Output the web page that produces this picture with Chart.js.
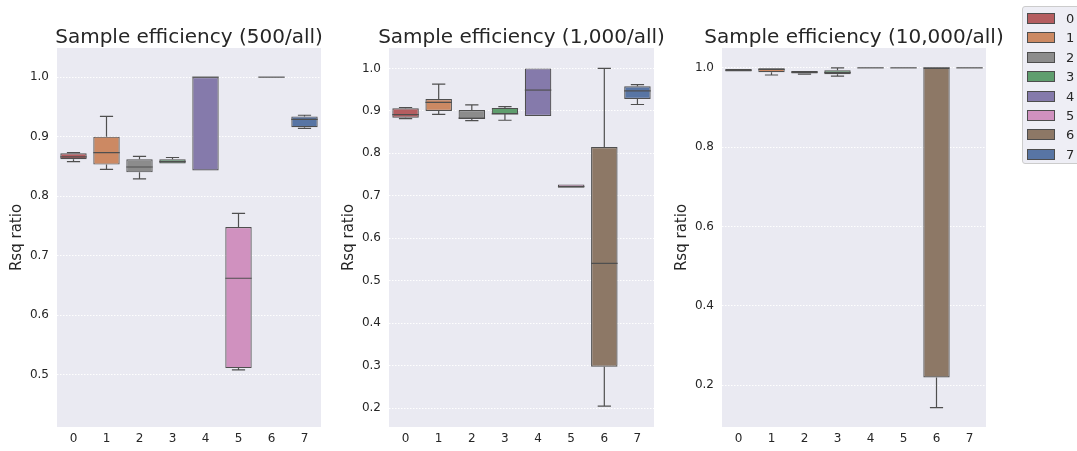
<!DOCTYPE html>
<html>
<head>
<meta charset="utf-8">
<script src="https://cdn.jsdelivr.net/npm/chart.js@4.4.0/dist/chart.umd.min.js"></script>
<style>
    body { margin: 0; background: #fff; font-family: 'DejaVu Sans', sans-serif; }
    #wrap { position: relative; width: 1077px; height: 451px; overflow: hidden; }
    #wrap canvas { position: absolute; left: 0; top: 0; }
    #legend {
        position: absolute; left: 1022px; top: 6px; width: 70px; height: 158px;
        background: #eeeef5; border: 1px solid #cccccc; border-radius: 3px;
        box-sizing: border-box;
    }
    .leg-row { position: absolute; left: 4px; height: 19px; display: flex; align-items: center; }
    .leg-patch { width: 26px; height: 9px; border: 1px solid #4d4d4d; }
    .leg-label { margin-left: 11px; font-size: 13px; color: #262626; }
</style>
</head>
<body>
<div id="wrap">
    <canvas id="c500" width="1077" height="451"></canvas>
    <canvas id="c1000" width="1077" height="451"></canvas>
    <canvas id="c10000" width="1077" height="451"></canvas>
    <div id="legend"></div>
</div>
<script>
// categories and colours
const categories = ['0', '1', '2', '3', '4', '5', '6', '7'];
const boxColors = ['#b55d60', '#cc8963', '#8c8c8c', '#5f9e6e', '#857aab', '#d091bf', '#8d7866', '#5875a4'];

// 500/all
const p500Min = [0.858, 0.845, 0.829, 0.855, 0.843, 0.508, 1.0, 0.914];
const p500Q1  = [0.862, 0.853, 0.840, 0.855, 0.843, 0.511, 1.0, 0.916];
const p500Med = [0.866, 0.873, 0.849, 0.858, 1.0, 0.662, 1.0, 0.929];
const p500Q3  = [0.872, 0.900, 0.862, 0.862, 1.0, 0.748, 1.0, 0.934];
const p500Max = [0.873, 0.934, 0.867, 0.865, 1.0, 0.771, 1.0, 0.936];
const p500Ticks = [0.5, 0.6, 0.7, 0.8, 0.9, 1.0];

// 1,000/all
const p1000Min = [0.882, 0.892, 0.877, 0.878, 0.888, 0.719, 0.205, 0.915];
const p1000Q1  = [0.884, 0.900, 0.881, 0.892, 0.888, 0.719, 0.298, 0.928];
const p1000Med = [0.891, 0.920, 0.883, 0.893, 0.949, 0.722, 0.541, 0.947];
const p1000Q3  = [0.906, 0.928, 0.902, 0.907, 1.0, 0.727, 0.815, 0.958];
const p1000Max = [0.908, 0.963, 0.914, 0.910, 1.0, 0.727, 1.0, 0.962];
const p1000Ticks = [0.2, 0.3, 0.4, 0.5, 0.6, 0.7, 0.8, 0.9, 1.0];

// 10,000/all
const p10000Min = [0.990, 0.982, 0.984, 0.979, 1.0, 1.0, 0.144, 1.0];
const p10000Q1  = [0.991, 0.989, 0.986, 0.984, 1.0, 1.0, 0.220, 1.0];
const p10000Med = [0.994, 0.996, 0.989, 0.988, 1.0, 1.0, 1.0, 1.0];
const p10000Q3  = [0.997, 0.999, 0.992, 0.994, 1.0, 1.0, 1.0, 1.0];
const p10000Max = [0.998, 1.0, 0.993, 1.0, 1.0, 1.0, 1.0, 1.0];
const p10000Ticks = [0.2, 0.4, 0.6, 0.8, 1.0];

const LINE = '#4f4f4f';
const TEXT = '#262626';

// 须 / 中位线
const whiskerPlugin = {
    id: 'whiskers',
    afterDatasetsDraw(chart, args, opts) {
        const ctx = chart.ctx;
        const y = chart.scales.y;
        const meta = chart.getDatasetMeta(0);
        ctx.save();
        ctx.strokeStyle = LINE;
        ctx.lineWidth = 1.2;
        meta.data.forEach((bar, i) => {
            const x = bar.x;
            const half = bar.width / 2;
            const cap = bar.width / 4;
            const yMin = y.getPixelForValue(opts.min[i]);
            const yQ1 = y.getPixelForValue(opts.q1[i]);
            const yQ3 = y.getPixelForValue(opts.q3[i]);
            const yMax = y.getPixelForValue(opts.max[i]);
            const yMed = y.getPixelForValue(opts.med[i]);
            ctx.beginPath();
            if (yMax < yQ3 - 0.5) {
                ctx.moveTo(x, yQ3); ctx.lineTo(x, yMax);
                ctx.moveTo(x - cap, yMax); ctx.lineTo(x + cap, yMax);
            }
            if (yMin > yQ1 + 0.5) {
                ctx.moveTo(x, yQ1); ctx.lineTo(x, yMin);
                ctx.moveTo(x - cap, yMin); ctx.lineTo(x + cap, yMin);
            }
            ctx.moveTo(x - half, yMed); ctx.lineTo(x + half, yMed);
            ctx.stroke();
        });
        ctx.restore();
    }
};

// 背景 + 标题（居中于绘图区）
const bgPlugin = {
    id: 'plotBg',
    beforeDraw(chart, args, opts) {
        const a = chart.chartArea;
        const ctx = chart.ctx;
        ctx.save();
        ctx.fillStyle = '#eaeaf2';
        ctx.fillRect(a.left, a.top, a.right - a.left, a.bottom - a.top);
        ctx.fillStyle = TEXT;
        ctx.font = '20px "DejaVu Sans"';
        ctx.textAlign = 'center';
        ctx.textBaseline = 'alphabetic';
        ctx.fillText(opts.title, (a.left + a.right) / 2, 43);
        ctx.restore();
    }
};

function makePanel(id, title, stats, ticks, yMin, yMax, left, right) {
    new Chart(document.getElementById(id), {
        type: 'bar',
        data: {
            labels: categories,
            datasets: [{
                data: stats.q1.map((q, i) => [q, stats.q3[i]]),
                backgroundColor: boxColors,
                borderColor: LINE,
                borderWidth: 1.2,
                borderSkipped: false,
                barPercentage: 0.8,
                categoryPercentage: 1.0
            }]
        },
        options: {
            responsive: false,
            animation: false,
            devicePixelRatio: 1,
            layout: { padding: { left: left - 53, right: 1077 - right, top: 48, bottom: 0 } },
            plugins: {
                legend: { display: false },
                tooltip: { enabled: false },
                title: { display: false },
                plotBg: { title: title },
                whiskers: stats
            },
            scales: {
                x: {
                    grid: { display: false, drawTicks: false },
                    border: { display: false },
                    ticks: { color: TEXT, font: { family: 'DejaVu Sans', size: 12 }, padding: 5 },
                    afterFit: s => { s.height = 24; }
                },
                y: {
                    min: yMin,
                    max: yMax,
                    afterBuildTicks: s => { s.ticks = ticks.map(v => ({ value: v })); },
                    afterFit: s => { s.width = 53; },
                    grid: { color: '#ffffff', lineWidth: 1, drawTicks: false },
                    border: { display: false, dash: [1.5, 1.5] },
                    ticks: {
                        color: TEXT,
                        font: { family: 'DejaVu Sans', size: 12 },
                        padding: 8,
                        callback: v => Number(v).toFixed(1)
                    },
                    title: {
                        display: true,
                        text: 'Rsq ratio',
                        color: TEXT,
                        font: { family: 'DejaVu Sans', size: 15 },
                        padding: { top: 4, bottom: 4 }
                    }
                }
            }
        },
        plugins: [bgPlugin, whiskerPlugin]
    });
}

makePanel('c500', 'Sample efficiency (500/all)',
    { min: p500Min, q1: p500Q1, med: p500Med, q3: p500Q3, max: p500Max },
    p500Ticks, 0.412, 1.049, 57, 321);
makePanel('c1000', 'Sample efficiency (1,000/all)',
    { min: p1000Min, q1: p1000Q1, med: p1000Med, q3: p1000Q3, max: p1000Max },
    p1000Ticks, 0.156, 1.048, 389, 654);
makePanel('c10000', 'Sample efficiency (10,000/all)',
    { min: p10000Min, q1: p10000Q1, med: p10000Med, q3: p10000Q3, max: p10000Max },
    p10000Ticks, 0.095, 1.05, 722, 986);

// 图例
const legend = document.getElementById('legend');
legend.innerHTML = categories.map((c, i) => `
    <div class="leg-row" style="top:${2 + i * 19.4}px">
        <div class="leg-patch" style="background:${boxColors[i]}"></div>
        <span class="leg-label">${c}</span>
    </div>`).join('');
</script>
</body>
</html>
